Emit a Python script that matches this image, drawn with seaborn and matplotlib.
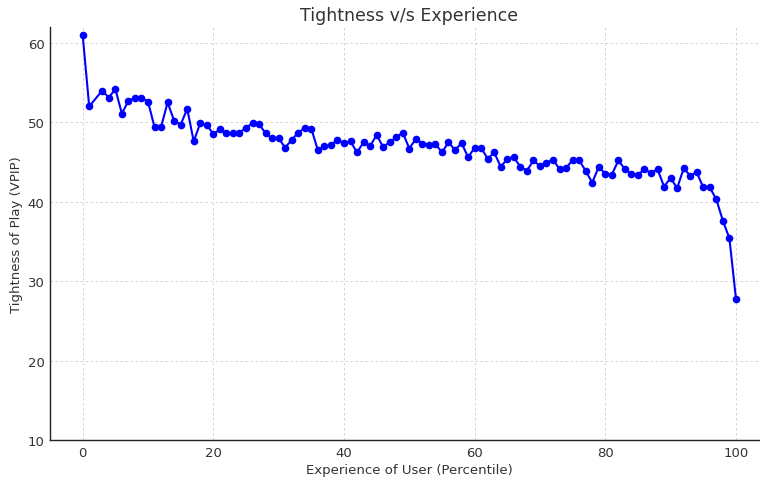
import pandas as pd
import seaborn as sns
import matplotlib.pyplot as plt

# percentile 2 has no point in the source chart
percentile = [0, 1] + list(range(3, 101))

vpip = [
    61.0, 52.0, 54.0, 53.1, 54.2, 51.1, 52.7, 53.1, 53.1, 52.6,
    49.4, 49.4, 52.5, 50.2, 49.7, 51.7, 47.6, 49.9, 49.7, 48.5,
    49.1, 48.7, 48.6, 48.7, 49.3, 49.9, 49.8, 48.6, 48.0, 48.0,
    46.8, 47.8, 48.7, 49.3, 49.2, 46.5, 47.0, 47.1, 47.8, 47.4,
    47.6, 46.2, 47.5, 47.0, 48.4, 46.9, 47.5, 48.1, 48.7, 46.7,
    47.9, 47.3, 47.2, 47.3, 46.2, 47.5, 46.5, 47.4, 45.6, 46.8,
    46.8, 45.4, 46.2, 44.4, 45.4, 45.6, 44.4, 43.9, 45.2, 44.5,
    44.9, 45.3, 44.1, 44.2, 45.3, 45.2, 43.9, 42.4, 44.4, 43.5,
    43.4, 45.2, 44.1, 43.5, 43.4, 44.1, 43.6, 44.1, 41.9, 43.0,
    41.7, 44.2, 43.3, 43.7, 41.8, 41.8, 40.3, 37.6, 35.4, 27.8,
]

df = pd.DataFrame({'Percentile': percentile, 'VPIP': vpip})

sns.set_style("whitegrid")
plt.rcParams['font.family'] = ['DejaVu Sans']

fig = plt.figure(figsize=(7.6, 4.81), dpi=100)
ax = fig.add_axes([50 / 760, 40 / 481, 718.6 / 760, 413 / 481])

sns.lineplot(data=df, x='Percentile', y='VPIP', ax=ax, color='blue',
             marker='o', markersize=5.5, markeredgewidth=0, linewidth=1.5)

ax.set_xlim(-5, 105)
ax.set_ylim(10, 62)
ax.set_xticks([0, 20, 40, 60, 80, 100])
ax.set_yticks([10, 20, 30, 40, 50, 60])

ax.grid(True, linestyle='--', linewidth=0.6, color='#cccccc', dashes=(3, 3))
for side in ['top', 'right']:
    ax.spines[side].set_visible(False)
for side in ['left', 'bottom']:
    ax.spines[side].set_color('#222222')
    ax.spines[side].set_linewidth(1.0)

ax.tick_params(axis='both', length=0, labelsize=9.5, colors='#333333', pad=4)
ax.set_xlabel('Experience of User (Percentile)', fontsize=9.5, color='#333333', labelpad=3)
ax.set_ylabel('Tightness of Play (VPIP)', fontsize=9.5, color='#333333', labelpad=3)
ax.set_title('Tightness v/s Experience', fontsize=12.5, color='#333333', pad=5)

fig.savefig('out.png', dpi=100)
